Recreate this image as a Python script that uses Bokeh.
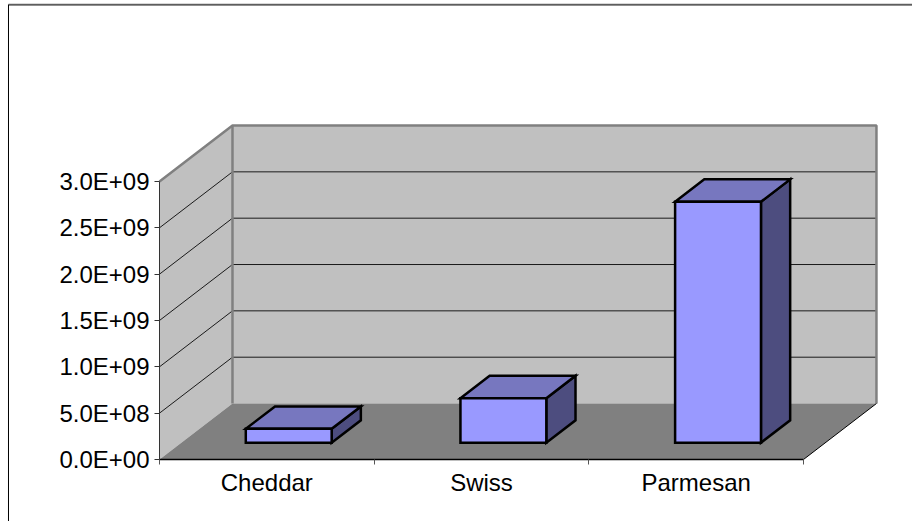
from bokeh.embed import file_html
from bokeh.models import FixedTicker, LinearAxis, Range1d
from bokeh.plotting import figure
from bokeh.resources import INLINE

categories = ["Cheddar", "Swiss", "Parmesan"]
values = [1.5e8, 4.8e8, 2.6e9]
y_ticks = [0, 5e8, 1e9, 1.5e9, 2e9, 2.5e9, 3e9]
y_tick_labels = ["0.0E+00", "5.0E+08", "1.0E+09", "1.5E+09", "2.0E+09", "2.5E+09", "3.0E+09"]

WALL = "#C0C0C0"
FLOOR = "#808080"
BAR_FRONT = "#9999FF"
BAR_TOP = "#7777BF"
BAR_SIDE = "#4D4D7F"
FONT = "Liberation Sans"
FONT_SIZE = "24px"

# Oblique projection: a point at depth d (0 front, 1 back) shifts right and up.
DEPTH_X = 0.34
DEPTH_Y = 6.04e8
BAR_WIDTH = 0.4
BAR_D0, BAR_D1 = 0.3, 0.7
N = len(categories)
Y_MAX = y_ticks[-1]


def pt(c, v, d=0.0):
    return c + d * DEPTH_X, v + d * DEPTH_Y


def poly(*points):
    xs, ys = zip(*[pt(*q) for q in points])
    return list(xs), list(ys)


p = figure(
    width=912, height=521,
    x_range=Range1d(-0.7407, 3.5079), y_range=Range1d(-6.69e8, 4.953e9),
    x_axis_type=None, y_axis_type=None,
    output_backend="svg", toolbar_location=None,
    min_border=0, outline_line_color=None, background_fill_color="white",
)
p.grid.visible = False

# Walls and floor
x, y = poly((0, 0, 0), (0, Y_MAX, 0), (0, Y_MAX, 1), (0, 0, 1))
p.patch(x, y, fill_color=WALL, line_color=None)
x, y = poly((0, 0, 1), (0, Y_MAX, 1), (N, Y_MAX, 1), (N, 0, 1))
p.patch(x, y, fill_color=WALL, line_color=None)
x, y = poly((0, 0, 0), (N, 0, 0), (N, 0, 1), (0, 0, 1))
p.patch(x, y, fill_color=FLOOR, line_color=None)

# Gridlines on the side wall and the back wall
for v in y_ticks[1:-1]:
    x, y = poly((0, v, 0), (0, v, 1), (N, v, 1))
    p.line(x, y, line_color="#1A1A1A", line_width=1)

# Wall edges
x, y = poly((0, Y_MAX, 0), (0, Y_MAX, 1), (N, Y_MAX, 1), (N, 0, 1))
p.line(x, y, line_color=FLOOR, line_width=2.5)
x, y = poly((0, 0, 1), (0, Y_MAX, 1))
p.line(x, y, line_color=FLOOR, line_width=2.5)
x, y = poly((N, 0, 0), (N, 0, 1))
p.line(x, y, line_color="black", line_width=1)

# Bars
for i, val in enumerate(values):
    left = i + 0.5 - BAR_WIDTH / 2
    right = left + BAR_WIDTH
    faces = [
        (BAR_SIDE, [(right, 0, BAR_D0), (right, val, BAR_D0), (right, val, BAR_D1), (right, 0, BAR_D1)]),
        (BAR_TOP, [(left, val, BAR_D0), (right, val, BAR_D0), (right, val, BAR_D1), (left, val, BAR_D1)]),
        (BAR_FRONT, [(left, 0, BAR_D0), (right, 0, BAR_D0), (right, val, BAR_D0), (left, val, BAR_D0)]),
    ]
    for color, face in faces:
        x, y = poly(*face)
        p.patch(x, y, fill_color=color, line_color="black", line_width=2.5, line_join="miter")

# Axes sit on the front edges of the plot box
y_axis = LinearAxis(
    fixed_location=0, bounds=(0, Y_MAX),
    ticker=FixedTicker(ticks=y_ticks),
    major_label_overrides=dict(zip(y_ticks, y_tick_labels)),
    major_tick_out=5, major_tick_in=0, minor_tick_out=0, minor_tick_in=0,
    major_label_standoff=5,
    major_label_text_font=FONT, major_label_text_font_size=FONT_SIZE,
    major_label_text_color="black", axis_line_color="#333333",
    major_tick_line_color="#333333",
)
p.add_layout(y_axis, "left")

x_axis = LinearAxis(
    fixed_location=0, bounds=(0, N),
    ticker=FixedTicker(ticks=[i + 0.5 for i in range(N)], minor_ticks=list(range(N + 1))),
    major_label_overrides={i + 0.5: c for i, c in enumerate(categories)},
    major_tick_out=0, major_tick_in=0, minor_tick_out=5, minor_tick_in=0,
    major_label_standoff=4,
    major_label_text_font=FONT, major_label_text_font_size=FONT_SIZE,
    major_label_text_color="black", axis_line_color="black", axis_line_width=1.5,
    minor_tick_line_color="#555555",
)
p.add_layout(x_axis, "below")

# Chart area border: left and top edges only
p.line([-0.7035, -0.7035], [-6.69e8, 4.91e9], line_color="black", line_width=1)
p.line([-0.7035, 3.5079], [4.915e9, 4.915e9], line_color="#B0B0B0", line_width=1)
p.line([-0.7035, 3.5079], [4.905e9, 4.905e9], line_color="black", line_width=1)

open("out.html", "w").write(file_html(p, INLINE))
